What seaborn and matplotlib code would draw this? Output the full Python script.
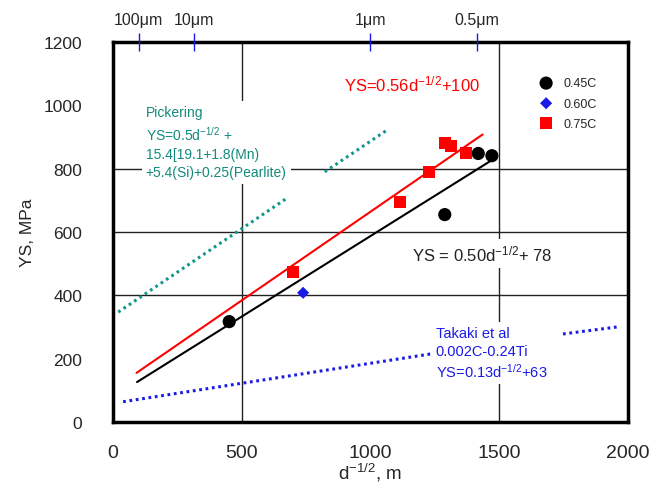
import numpy as np
import pandas as pd
import seaborn as sns
import matplotlib.pyplot as plt

c045_x = [452, 1289, 1419, 1472]
c045_y = [317, 655, 848, 841]
c060_x = [739]
c060_y = [408]
c075_x = [700, 1117, 1228, 1289, 1313, 1371]
c075_y = [474, 695, 790, 880, 872, 848]

# fitted lines (end points)
fit045_x = [94, 1464]
fit045_y = [126, 823]
fit075_x = [92, 1436]
fit075_y = [155, 908]

# literature lines, drawn in two pieces around their labels
pick1_x = [21, 680]
pick1_y = [347, 709]
pick2_x = [823, 1065]
pick2_y = [790, 922]
tak1_x = [40, 1243]
tak1_y = [64, 216]
tak2_x = [1748, 1957]
tak2_y = [278, 300]

top_ticks = [100, 316, 1000, 1414]
top_labels = ['100\u03bcm', '10\u03bcm', '1\u03bcm', '0.5\u03bcm']

teal = '#12968a'
blue = '#1a1ae6'
red = '#ff0000'

sns.set_style('white')
plt.rcParams['font.family'] = ['Liberation Sans', 'DejaVu Sans']
plt.rcParams['mathtext.default'] = 'regular'

fig = plt.figure(figsize=(6.52, 4.89), dpi=100)
ax = fig.add_axes([0.173, 0.135, 0.790, 0.777])

# grid lines that show in the original
for gx in [500, 1500]:
    ax.axvline(gx, color='#222222', lw=1, zorder=0.5)
for gy in [400, 600, 800]:
    ax.axhline(gy, color='#222222', lw=1, zorder=0.5)

pts = pd.concat([
    pd.DataFrame({'x': c045_x, 'y': c045_y, 'grade': '0.45C'}),
    pd.DataFrame({'x': c060_x, 'y': c060_y, 'grade': '0.60C'}),
    pd.DataFrame({'x': c075_x, 'y': c075_y, 'grade': '0.75C'}),
])
styles = {'0.45C': ('o', 'black', 90), '0.60C': ('D', blue, 38), '0.75C': ('s', red, 75)}
for g, d in pts.groupby('grade'):
    m, c, s = styles[g]
    sns.scatterplot(data=d, x='x', y='y', marker=m, color=c, s=s,
                    edgecolor='none', label=g, ax=ax, zorder=4)

sns.lineplot(x=fit045_x, y=fit045_y, color='black', lw=1.5, ax=ax, zorder=3)
sns.lineplot(x=fit075_x, y=fit075_y, color=red, lw=1.5, ax=ax, zorder=3)
for lx, ly in [(pick1_x, pick1_y), (pick2_x, pick2_y)]:
    ax.plot(lx, ly, color=teal, lw=2.2, ls=(0, (0.9, 1.2)), zorder=3)
for lx, ly in [(tak1_x, tak1_y), (tak2_x, tak2_y)]:
    ax.plot(lx, ly, color=blue, lw=2.2, ls=(0, (0.9, 1.2)), zorder=3)

box = dict(facecolor='white', edgecolor='none', pad=3)
ax.text(128, 1002, 'Pickering\nYS=0.5d$^{-1/2}$ +\n15.4[19.1+1.8(Mn)\n+5.4(Si)+0.25(Pearlite)',
        color='#138a7c', fontsize=10, va='top', ha='left', linespacing=1.4,
        bbox=box, zorder=1)
ax.text(1254, 302, 'Takaki et al\n0.002C-0.24Ti\nYS=0.13d$^{-1/2}$+63',
        color=blue, fontsize=10.5, va='top', ha='left', linespacing=1.3,
        bbox=box, zorder=1)
ax.text(897, 1068, 'YS=0.56d$^{-1/2}$+100', color=red, fontsize=12,
        va='center', ha='left', bbox=box, zorder=1)
ax.text(1161, 532, 'YS = 0.50d$^{-1/2}$+ 78', color='#222222', fontsize=12,
        va='center', ha='left', bbox=box, zorder=1)

ax.set_xlim(0, 2000)
ax.set_ylim(0, 1200)
ax.set_xticks([0, 500, 1000, 1500, 2000])
ax.set_yticks(range(0, 1201, 200))
ax.tick_params(axis='x', length=0, pad=16, labelsize=14)
ax.tick_params(axis='y', direction='in', length=7, width=2.5, pad=22, labelsize=12.5)
ax.set_xlabel('d$^{-1/2}$, m', fontsize=13.5, labelpad=0)
ax.set_ylabel('YS, MPa', fontsize=12.5, labelpad=6)
for sp in ax.spines.values():
    sp.set_linewidth(2.5)
    sp.set_color('black')

ax.legend(loc='upper left', bbox_to_anchor=(0.80, 0.93), frameon=False,
          fontsize=9, handletextpad=0.4, labelspacing=0.65, borderpad=0.2)

top = ax.twiny()
top.set_xlim(0, 2000)
top.set_xticks(top_ticks)
top.set_xticklabels(top_labels)
top.tick_params(axis='x', direction='inout', length=13, width=1, color=blue,
                labelsize=11.5, pad=4)
for sp in top.spines.values():
    sp.set_visible(False)

fig.savefig('out.png', dpi=100)
